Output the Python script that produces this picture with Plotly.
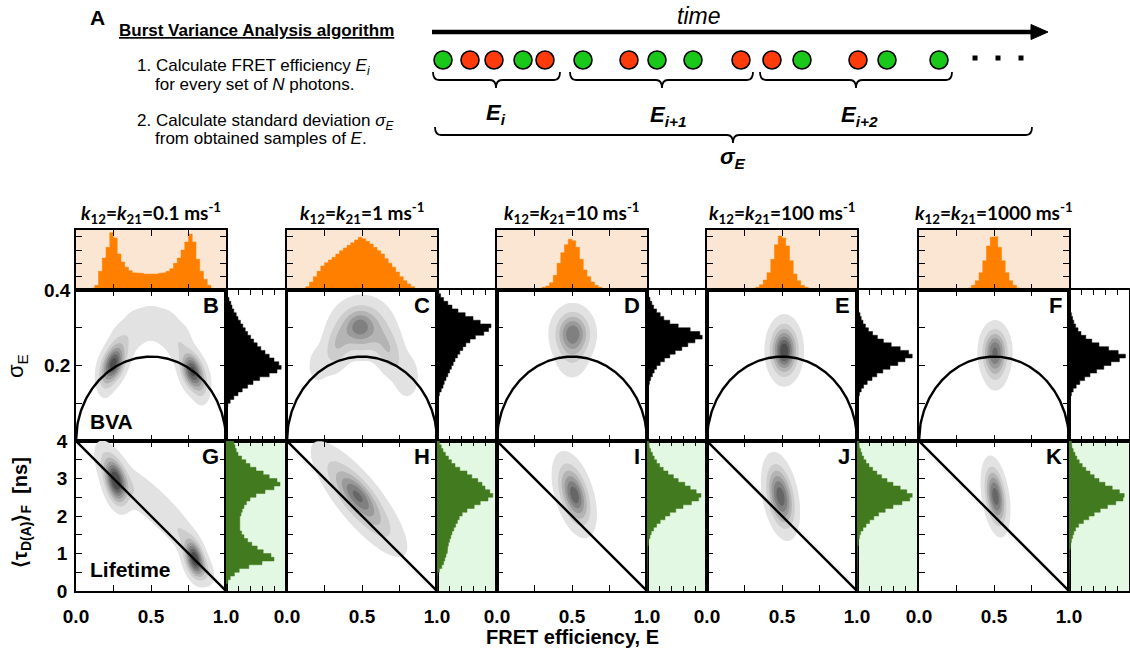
import numpy as np
import plotly.graph_objects as go

W, H = 1130, 657
FONT = "Liberation Sans, Arial, sans-serif"
TFONT = "Lato, Liberation Sans, sans-serif"

# ---------------- data ----------------
RATES = ["0.1", "1", "10", "100", "1000"]
LETTERS_BVA = ["B", "C", "D", "E", "F"]
LETTERS_LT = ["G", "H", "I", "J", "K"]

E_BINS = np.arange(40) * 0.025 + 0.0125      # FRET efficiency histogram bins
SIG_BINS = np.arange(40) * 0.01 + 0.005       # sigma_E histogram bins
TAU_BINS = np.arange(40) * 0.1 + 0.05         # lifetime histogram bins (ns)

N_PHOTONS = 5      # photons per BVA window (static FRET semicircle)
TAU_D0 = 4.0       # donor-only lifetime (static FRET line)

top_B = [0, 0, 0, 0.1, 0.15, 0.35, 1.4, 2.4, 3.2, 4.3, 3.9, 2.7, 2.1, 1.7, 1.45, 1.3, 1.3, 1.25, 1.2, 1.15,
         1.2, 1.2, 1.25, 1.3, 1.4, 1.6, 2.0, 2.4, 3.0, 3.6, 4.2, 3.6, 2.3, 1.4, 0.8, 0.35, 0.1, 0, 0, 0]
top_C = [0, 0, 0, 0.05, 0.1, 0.25, 0.6, 1.0, 1.4, 1.8, 2.05, 2.25, 2.45, 2.7, 2.95, 3.15, 3.35, 3.55, 3.75, 3.95,
         3.85, 3.65, 3.45, 3.2, 2.95, 2.7, 2.35, 2.0, 1.7, 1.35, 1.0, 0.7, 0.45, 0.25, 0.12, 0.05, 0, 0, 0, 0]
top_D = [0] * 10 + [0.05, 0.1, 0.2, 0.3, 0.55, 1.1, 2.0, 2.8, 3.4, 3.8,
                    3.7, 3.2, 2.3, 1.5, 1.0, 0.6, 0.35, 0.2, 0.1, 0.05] + [0] * 10
top_E = [0] * 12 + [0.1, 0.2, 0.4, 0.75, 1.3, 2.3, 3.4, 4.05,
                    3.9, 3.3, 2.2, 1.2, 0.7, 0.35, 0.2, 0.1, 0.05] + [0] * 11
top_F = [0] * 12 + [0.08, 0.15, 0.35, 0.7, 1.3, 2.2, 3.3, 3.95,
                    4.0, 3.2, 2.2, 1.3, 0.7, 0.35, 0.15, 0.08] + [0] * 12

sig_B = [0] * 9 + [0.03, 0.07, 0.13, 0.2, 0.27, 0.36, 0.45, 0.56, 0.72, 0.85, 0.92,
                   0.88, 0.8, 0.72, 0.65, 0.58, 0.52, 0.46, 0.41, 0.36, 0.32,
                   0.28, 0.24, 0.2, 0.17, 0.13, 0.1, 0.08, 0.05, 0.03, 0.02]
sig_C = [0] * 12 + [0.04, 0.07, 0.1, 0.12, 0.15, 0.18, 0.21, 0.24,
                    0.27, 0.3, 0.34, 0.38, 0.43, 0.48, 0.55, 0.64, 0.78, 0.86,
                    0.9, 0.72, 0.6, 0.47, 0.35, 0.25, 0.18, 0.11, 0.06, 0.03]
sig_D = [0] * 13 + [0.01, 0.02, 0.04, 0.06, 0.09, 0.12, 0.16,
                    0.22, 0.29, 0.38, 0.47, 0.58, 0.68, 0.8, 0.92, 0.88, 0.72,
                    0.52, 0.38, 0.28, 0.22, 0.16, 0.11, 0.08, 0.05, 0.03, 0.02]
sig_E = [0] * 11 + [0.02, 0.04, 0.07, 0.11, 0.17, 0.25, 0.33, 0.43, 0.55,
                    0.68, 0.8, 0.92, 0.86, 0.72, 0.57, 0.44, 0.34, 0.26, 0.19,
                    0.14, 0.1, 0.07, 0.05, 0.03, 0.02, 0.01, 0, 0, 0]
sig_F = [0] * 11 + [0.02, 0.04, 0.07, 0.12, 0.18, 0.26, 0.35, 0.46, 0.58,
                    0.7, 0.84, 0.94, 0.82, 0.66, 0.5, 0.38, 0.28, 0.2, 0.15,
                    0.11, 0.08, 0.06, 0.04, 0.02, 0.01, 0, 0, 0, 0]

tau_G = [0, 0, 0.03, 0.07, 0.14, 0.22, 0.38, 0.6, 0.8, 0.75, 0.62, 0.52, 0.43, 0.36, 0.3, 0.26, 0.23, 0.22, 0.22, 0.23,
         0.25, 0.27, 0.3, 0.34, 0.4, 0.5, 0.65, 0.8, 0.9, 0.85, 0.72, 0.62, 0.5, 0.4, 0.33, 0.26, 0.2, 0.17, 0.15, 0.13]
tau_H = [0, 0, 0, 0, 0.01, 0.04, 0.08, 0.11, 0.13, 0.15, 0.17, 0.18, 0.19, 0.21, 0.23, 0.25, 0.28, 0.31, 0.34, 0.37,
         0.42, 0.5, 0.62, 0.72, 0.85, 0.93, 0.88, 0.8, 0.75, 0.68, 0.58, 0.5, 0.38, 0.3, 0.24, 0.19, 0.14, 0.1, 0.07, 0.04]
tau_I = [0] * 10 + [0.01, 0.01, 0.02, 0.03, 0.05, 0.07, 0.11, 0.16, 0.22, 0.3,
                    0.38, 0.48, 0.6, 0.74, 0.86, 0.9, 0.82, 0.72, 0.63, 0.52,
                    0.44, 0.35, 0.27, 0.21, 0.16, 0.12, 0.09, 0.06, 0.04, 0.03]
tau_J = [0] * 10 + [0.01, 0.01, 0.02, 0.03, 0.04, 0.06, 0.1, 0.15, 0.21, 0.28,
                    0.36, 0.47, 0.6, 0.75, 0.88, 0.92, 0.83, 0.72, 0.6, 0.5,
                    0.41, 0.33, 0.26, 0.2, 0.15, 0.11, 0.08, 0.06, 0.04, 0.03]
tau_K = [0] * 10 + [0.01, 0.02, 0.03, 0.04, 0.06, 0.08, 0.11, 0.16, 0.24, 0.33,
                    0.42, 0.52, 0.64, 0.78, 0.9, 0.92, 0.84, 0.72, 0.6, 0.5,
                    0.42, 0.35, 0.28, 0.22, 0.17, 0.13, 0.1, 0.07, 0.05, 0.04]

# 2D density blobs: (E, y, sdE, sdY, rho, amplitude)
bva_B = [(0.25, 0.205, 0.045, 0.03, 0.3, 0.95), (0.775, 0.185, 0.045, 0.03, -0.3, 0.95),
         (0.19, 0.165, 0.035, 0.03, 0.0, 0.18), (0.84, 0.145, 0.035, 0.03, 0.0, 0.18),
         (0.31, 0.26, 0.05, 0.032, 0.0, 0.16), (0.40, 0.30, 0.05, 0.03, 0.0, 0.15),
         (0.50, 0.315, 0.05, 0.028, 0.0, 0.14), (0.60, 0.30, 0.05, 0.03, 0.0, 0.15),
         (0.69, 0.26, 0.05, 0.032, 0.0, 0.16)]
bva_C = [(0.50, 0.30, 0.10, 0.04, 0.0, 0.55), (0.48, 0.305, 0.05, 0.022, 0.0, 0.18),
         (0.33, 0.25, 0.06, 0.04, 0.3, 0.28), (0.68, 0.24, 0.06, 0.04, -0.3, 0.3),
         (0.20, 0.20, 0.04, 0.03, 0.0, 0.1), (0.80, 0.17, 0.05, 0.035, 0.0, 0.14)]
bva_D = [(0.505, 0.285, 0.07, 0.035, 0.0, 0.72), (0.50, 0.22, 0.065, 0.035, 0.0, 0.14)]
bva_E = [(0.515, 0.24, 0.055, 0.04, 0.0, 0.9), (0.515, 0.235, 0.025, 0.02, 0.0, 0.15)]
bva_F = [(0.507, 0.236, 0.05, 0.036, 0.0, 0.78), (0.51, 0.18, 0.045, 0.03, 0.0, 0.12)]

lt_G = [(0.265, 2.92, 0.045, 0.36, -0.35, 1.0), (0.79, 0.85, 0.04, 0.3, -0.35, 1.0),
        (0.20, 3.45, 0.05, 0.35, -0.4, 0.16), (0.34, 2.85, 0.06, 0.35, -0.4, 0.13),
        (0.45, 2.55, 0.06, 0.35, -0.4, 0.12), (0.55, 2.2, 0.06, 0.35, -0.4, 0.12),
        (0.65, 1.8, 0.06, 0.35, -0.4, 0.12), (0.73, 1.4, 0.05, 0.3, -0.4, 0.14),
        (0.86, 0.55, 0.04, 0.25, -0.4, 0.15)]
lt_H = [(0.48, 2.45, 0.15, 0.72, -0.82, 0.5), (0.47, 2.55, 0.07, 0.32, -0.6, 0.3)]
lt_I = [(0.515, 2.57, 0.065, 0.5, -0.45, 0.75), (0.52, 2.55, 0.03, 0.22, -0.4, 0.12)]
lt_J = [(0.49, 2.52, 0.055, 0.5, -0.35, 0.85)]
lt_K = [(0.51, 2.52, 0.042, 0.46, -0.35, 0.85)]

TOPS = [top_B, top_C, top_D, top_E, top_F]
SIGS = [sig_B, sig_C, sig_D, sig_E, sig_F]
TAUS = [tau_G, tau_H, tau_I, tau_J, tau_K]
BVAS = [bva_B, bva_C, bva_D, bva_E, bva_F]
LTS = [lt_G, lt_H, lt_I, lt_J, lt_K]

# ---------------- style / geometry ----------------
ORANGE = "#ff8000"
PEACH = "#fbe6d4"
DKGREEN = "#417a1f"
LTGREEN = "#e2f8e2"
GRAYS = ["rgba(255,255,255,0)", "#e2e2e2", "#cdcdcd", "#b4b4b4", "#9a9a9a", "#808080", "#666666", "#4d4d4d"]
MAIN_X0 = [76, 287, 497, 707, 919]
MAIN_W, SIDE_W = 150, 60
TOP_Y, BVA_Y, LT_Y = (230, 290), (290, 441), (441, 591)


def px(x):
    return x / W


def py(y):
    return 1 - y / H


def density(comps, ymax):
    e = np.linspace(0, 1, 201)
    y = np.linspace(0, ymax, 201)
    EE, YY = np.meshgrid(e, y)
    Z = np.zeros_like(EE)
    for ec, yc, se, sy, rho, a in comps:
        dx = (EE - ec) / se
        dy = (YY - yc) / sy
        Z += a * np.exp(-0.5 / (1 - rho ** 2) * (dx ** 2 - 2 * rho * dx * dy + dy ** 2))
    return e, y, Z


def steps(centers, vals, w):
    """Outline of a histogram (bin edges / counts) for a filled step trace."""
    pos, val = [], []
    for cc, v in zip(centers, vals):
        pos += [cc - w / 2, cc + w / 2]
        val += [v, v]
    return pos, val


def aname(i, pre):
    return pre if i == 1 else f"{pre}{i}"


def axstyle(**kw):
    d = dict(showline=True, mirror="ticks", linecolor="black", linewidth=1.6, ticks="inside",
             ticklen=6, tickwidth=1.3, tickcolor="black", showgrid=False, zeroline=False,
             showticklabels=False, fixedrange=True, automargin=False)
    d.update(kw)
    return d


TICKFONT = dict(family=FONT, size=19, color="black", weight="bold")
CSCALE = [[i / 7, c] for i, c in enumerate(GRAYS)]

fig = go.Figure()
layout = dict(width=W, height=H, margin=dict(l=0, r=0, t=0, b=0, autoexpand=False), paper_bgcolor="white",
              plot_bgcolor="white", showlegend=False)
shapes, annotations = [], []


def txt(x, y, s, size, bold=False, italic=False, xanchor="center", angle=0, family=FONT):
    annotations.append(dict(x=px(x), y=py(y), xref="paper", yref="paper", text=s, showarrow=False,
                            font=dict(family=family, size=size, color="black",
                                      weight="bold" if bold else "normal",
                                      style="italic" if italic else "normal"),
                            xanchor=xanchor, yanchor="middle", textangle=angle))


for c in range(5):
    x0 = MAIN_X0[c]
    xm = [px(x0), px(x0 + MAIN_W)]
    xs = [px(x0 + MAIN_W), px(x0 + MAIN_W + SIDE_W)]
    b = 5 * c
    i_top, i_bva, i_bs, i_lt, i_ls = b + 1, b + 2, b + 3, b + 4, b + 5

    # top FRET histogram
    layout[aname(i_top, "xaxis")] = axstyle(domain=xm, range=[0, 1], tickvals=[0.25, 0.5, 0.75],
                                            anchor=aname(i_top, "y"))
    layout[aname(i_top, "yaxis")] = axstyle(domain=[py(TOP_Y[1]), py(TOP_Y[0])], range=[0, 4.5],
                                            tickvals=[1, 2, 3, 4], anchor=aname(i_top, "x"))
    hx, hy = steps(E_BINS, TOPS[c], 0.025)
    fig.add_trace(go.Scatter(x=hx, y=hy, mode="lines", fill="tozeroy", fillcolor=ORANGE,
                             line=dict(color=ORANGE, width=0.5),
                             xaxis=aname(i_top, "x"), yaxis=aname(i_top, "y"), hoverinfo="skip"))
    shapes.append(dict(type="rect", xref=aname(i_top, "x") + " domain", yref=aname(i_top, "y") + " domain",
                       x0=0, x1=1, y0=0, y1=1, fillcolor=PEACH, line=dict(width=0), layer="below"))

    # BVA main
    bva_y = dict(tickvals=[0.1, 0.2, 0.3, 0.4], ticktext=["", "0.2", "", "0.4"])
    if c == 0:
        bva_y.update(showticklabels=True, tickfont=TICKFONT, ticklabelstandoff=0)
    layout[aname(i_bva, "xaxis")] = axstyle(domain=xm, range=[0, 1], tickvals=[0.25, 0.5, 0.75],
                                            anchor=aname(i_bva, "y"))
    layout[aname(i_bva, "yaxis")] = axstyle(domain=[py(BVA_Y[1]), py(BVA_Y[0])], range=[0, 0.4],
                                            anchor=aname(i_bva, "x"), **bva_y)
    e, s, Z = density(BVAS[c], 0.4)
    fig.add_trace(go.Contour(x=e, y=s, z=Z, autocontour=False,
                             contours=dict(start=0.05, end=0.89, size=0.14, coloring="fill", showlines=False),
                             colorscale=CSCALE, showscale=False, line=dict(width=0, smoothing=0.9),
                             xaxis=aname(i_bva, "x"), yaxis=aname(i_bva, "y"), hoverinfo="skip"))
    ee = np.linspace(0, 1, 401)
    fig.add_trace(go.Scatter(x=ee, y=np.sqrt(ee * (1 - ee) / N_PHOTONS), mode="lines",
                             line=dict(color="black", width=2.4),
                             xaxis=aname(i_bva, "x"), yaxis=aname(i_bva, "y"), hoverinfo="skip"))

    # BVA side histogram
    layout[aname(i_bs, "xaxis")] = axstyle(domain=xs, range=[0, 1], tickvals=[0.2, 0.4, 0.6, 0.8],
                                           ticklen=5, anchor=aname(i_bs, "y"))
    layout[aname(i_bs, "yaxis")] = axstyle(domain=[py(BVA_Y[1]), py(BVA_Y[0])], range=[0, 0.4], ticks="",
                                           mirror=True, anchor=aname(i_bs, "x"))
    hy, hx = steps(SIG_BINS, SIGS[c], 0.01)
    fig.add_trace(go.Scatter(x=hx, y=hy, mode="lines", fill="tozerox", fillcolor="black",
                             line=dict(color="black", width=0.5),
                             xaxis=aname(i_bs, "x"), yaxis=aname(i_bs, "y"), hoverinfo="skip"))

    # Lifetime main
    lt_y = dict(tickvals=[0, 0.5, 1, 1.5, 2, 2.5, 3, 3.5, 4], ticktext=["0", "", "1", "", "2", "", "3", "", "4"])
    if c == 0:
        lt_y.update(showticklabels=True, tickfont=TICKFONT, ticklabelstandoff=3)
    layout[aname(i_lt, "xaxis")] = axstyle(domain=xm, range=[0, 1], tickvals=[0, 0.25, 0.5, 0.75, 1],
                                           ticktext=["0.0", "", "0.5", "", "1.0"], showticklabels=True,
                                           tickfont=TICKFONT, ticklabelstandoff=7, anchor=aname(i_lt, "y"))
    layout[aname(i_lt, "yaxis")] = axstyle(domain=[py(LT_Y[1]), py(LT_Y[0])], range=[0, 4],
                                           anchor=aname(i_lt, "x"), **lt_y)
    e, t, Z = density(LTS[c], 4.0)
    fig.add_trace(go.Contour(x=e, y=t, z=Z, autocontour=False,
                             contours=dict(start=0.05, end=0.89, size=0.14, coloring="fill", showlines=False),
                             colorscale=CSCALE, showscale=False, line=dict(width=0, smoothing=0.9),
                             xaxis=aname(i_lt, "x"), yaxis=aname(i_lt, "y"), hoverinfo="skip"))
    el = np.array([0.0, 1.0])
    fig.add_trace(go.Scatter(x=el, y=TAU_D0 * (1 - el), mode="lines", line=dict(color="black", width=2.4),
                             xaxis=aname(i_lt, "x"), yaxis=aname(i_lt, "y"), hoverinfo="skip"))

    # Lifetime side histogram
    layout[aname(i_ls, "xaxis")] = axstyle(domain=xs, range=[0, 1], tickvals=[0.2, 0.4, 0.6, 0.8],
                                           ticklen=5, anchor=aname(i_ls, "y"))
    layout[aname(i_ls, "yaxis")] = axstyle(domain=[py(LT_Y[1]), py(LT_Y[0])], range=[0, 4], ticks="",
                                           mirror=True, anchor=aname(i_ls, "x"))
    hy, hx = steps(TAU_BINS, TAUS[c], 0.1)
    fig.add_trace(go.Scatter(x=hx, y=hy, mode="lines", fill="tozerox", fillcolor=DKGREEN,
                             line=dict(color=DKGREEN, width=0.5),
                             xaxis=aname(i_ls, "x"), yaxis=aname(i_ls, "y"), hoverinfo="skip"))
    shapes.append(dict(type="rect", xref=aname(i_ls, "x") + " domain", yref=aname(i_ls, "y") + " domain",
                       x0=0, x1=1, y0=0, y1=1, fillcolor=LTGREEN, line=dict(width=0), layer="below"))

    # panel texts
    txt(x0 + MAIN_W / 2, 213,
        f"<i>k</i><sub>12</sub>=<i>k</i><sub>21</sub>={RATES[c]} ms<sup>-1</sup>", 19, bold=True, family=TFONT)
    txt(x0 + MAIN_W - 5, 305, LETTERS_BVA[c], 22, bold=True, xanchor="right")
    txt(x0 + MAIN_W - 5, 456, LETTERS_LT[c], 22, bold=True, xanchor="right")

txt(88, 421, "BVA", 21, bold=True, xanchor="left")
txt(88, 569, "Lifetime", 21, bold=True, xanchor="left")
txt(17, 366, "σ<sub>E</sub>", 22, angle=-90)
txt(21, 513, "⟨τ<sub>D(A)</sub>⟩<sub>F</sub>  [ns]", 20, bold=True, angle=-90)
txt(572, 637, "FRET efficiency, E", 20, bold=True)

# ---------------- schematic (panel A) ----------------
txt(97, 17, "A", 21, bold=True)
txt(117, 30, "<u>Burst Variance Analysis algorithm</u>", 17, bold=True, xanchor="left")
txt(135, 67, "1. Calculate FRET efficiency <i>E<sub>i</sub></i>", 17, xanchor="left")
txt(153, 84, "for every set of <i>N</i> photons.", 17, xanchor="left")
txt(135, 122, "2. Calculate standard deviation <i>σ<sub>E</sub></i>", 17, xanchor="left")
txt(153, 139, "from obtained samples of <i>E</i>.", 17, xanchor="left")
txt(698, 16, "time", 23, italic=True)

shapes.append(dict(type="line", xref="paper", yref="paper", x0=px(432), x1=px(1034), y0=py(32), y1=py(32),
                   line=dict(color="black", width=4.5)))
shapes.append(dict(type="path", xref="paper", yref="paper",
                   path=f"M {px(1031)},{py(24.5)} L {px(1048)},{py(32)} L {px(1031)},{py(39.5)} Z",
                   fillcolor="black", line=dict(color="black", width=1)))

PHOTON_X = [443, 470, 494, 523, 545, 583, 629, 657, 693, 741, 772, 802, 858, 887, 939]
PHOTON_C = ["g", "r", "r", "g", "r", "g", "r", "g", "g", "r", "r", "g", "r", "g", "g"]
COLS = {"g": "#19c819", "r": "#ff3b0c"}
for xc, cc in zip(PHOTON_X, PHOTON_C):
    shapes.append(dict(type="circle", xref="paper", yref="paper", x0=px(xc - 9), x1=px(xc + 9),
                       y0=py(69), y1=py(51), fillcolor=COLS[cc], line=dict(color="black", width=1.6)))
for xd in [975, 998, 1021]:
    shapes.append(dict(type="rect", xref="paper", yref="paper", x0=px(xd - 2.5), x1=px(xd + 2.5),
                       y0=py(60.5), y1=py(55.5), fillcolor="black", line=dict(width=0)))


def brace(x0, x1, xc, ytop, ybar, ytip, r=6):
    return (f"M {px(x0)},{py(ytop)} Q {px(x0)},{py(ybar)} {px(x0 + r)},{py(ybar)} "
            f"L {px(xc - r)},{py(ybar)} Q {px(xc)},{py(ybar)} {px(xc)},{py(ytip)} "
            f"Q {px(xc)},{py(ybar)} {px(xc + r)},{py(ybar)} L {px(x1 - r)},{py(ybar)} "
            f"Q {px(x1)},{py(ybar)} {px(x1)},{py(ytop)}")


for (a, bb, cx) in [(433, 560, 496), (570, 753, 662), (760, 952, 856)]:
    shapes.append(dict(type="path", xref="paper", yref="paper", path=brace(a, bb, cx, 72, 80, 88),
                       line=dict(color="black", width=1.8)))
shapes.append(dict(type="path", xref="paper", yref="paper", path=brace(435, 1032, 733, 127, 135, 143),
                   line=dict(color="black", width=1.8)))

txt(496, 114, "<i>E<sub>i</sub></i>", 22, bold=True)
txt(668, 116, "<i>E<sub>i+1</sub></i>", 22, bold=True)
txt(859, 116, "<i>E<sub>i+2</sub></i>", 22, bold=True)
txt(733, 158, "<i>σ<sub>E</sub></i>", 22, bold=True)

layout["shapes"] = shapes
layout["annotations"] = annotations
fig.update_layout(**layout)
fig.write_html("out.html", config={"displayModeBar": False},
               post_script="document.body.style.margin='0px';")
